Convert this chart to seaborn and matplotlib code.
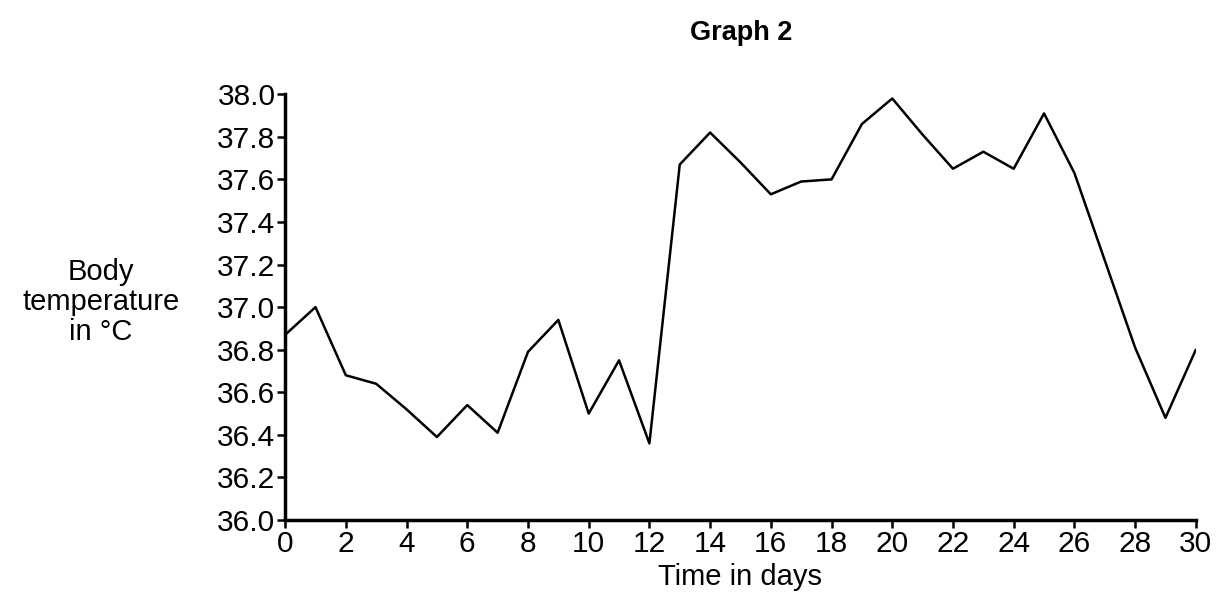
"""
Graph 2 - body temperature over a 30 day cycle.
"""
import matplotlib
matplotlib.use("Agg")
import matplotlib.pyplot as plt
import seaborn as sns
import pandas as pd

sns.set_theme(style="ticks")
plt.rcParams["font.family"] = ["Liberation Sans", "DejaVu Sans"]
plt.rcParams["text.color"] = "black"

days = list(range(0, 31))
temps = [36.87, 37.00, 36.68, 36.64, 36.52, 36.39, 36.54, 36.41, 36.79, 36.94,
         36.50, 36.75, 36.36, 37.67, 37.82, 37.68, 37.53, 37.59, 37.60, 37.86,
         37.98, 37.81, 37.65, 37.73, 37.65, 37.91, 37.63, 37.22, 36.81, 36.48,
         36.80]
x_ticks = list(range(0, 31, 2))
y_ticks = [36.0, 36.2, 36.4, 36.6, 36.8, 37.0, 37.2, 37.4, 37.6, 37.8, 38.0]

df = pd.DataFrame({"day": days, "temp": temps})

fig = plt.figure(figsize=(12.29, 6.04), dpi=100)
ax = fig.add_axes([0.232, 0.139, 0.741, 0.705])

sns.lineplot(data=df, x="day", y="temp", color="black", linewidth=1.8, ax=ax)

ax.set_xlim(0, 30)
ax.set_ylim(36.0, 38.0)
ax.set_xticks(x_ticks)
ax.set_yticks(y_ticks)
ax.set_yticklabels([f"{v:.1f}" for v in y_ticks])
ax.tick_params(axis="both", labelsize=21.5, length=6, width=1.8,
               direction="out", colors="black", pad=1)
for side in ("top", "right"):
    ax.spines[side].set_visible(False)
for side in ("left", "bottom"):
    ax.spines[side].set_linewidth(2.5)
    ax.spines[side].set_color("black")

ax.set_xlabel("Time in days", fontsize=21, labelpad=4, color="black")
ax.set_ylabel("")
fig.text(0.082, 0.50, "Body\ntemperature\nin \u00b0C", fontsize=21,
         ha="center", va="center", linespacing=1.1)
fig.text(0.603, 0.945, "Graph 2", fontsize=19.5, fontweight="bold",
         ha="center", va="center")

fig.savefig("out.png", dpi=100, facecolor="white")
